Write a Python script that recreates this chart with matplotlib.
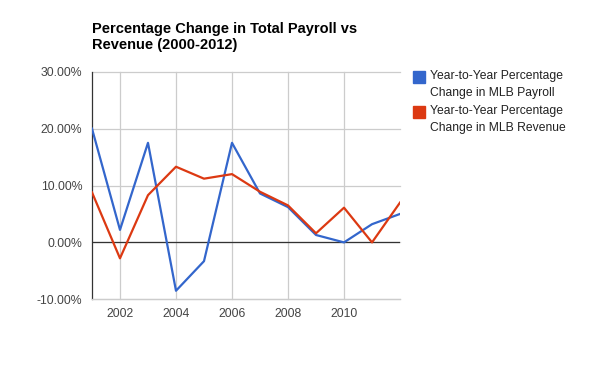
import matplotlib.pyplot as plt
from matplotlib.patches import Rectangle

plt.rcParams['font.family'] = ['Liberation Sans', 'DejaVu Sans']

years = [2001, 2002, 2003, 2004, 2005, 2006, 2007, 2008, 2009, 2010, 2011, 2012]
payroll = [20.0, 2.2, 17.5, -8.5, -3.3, 17.5, 8.6, 6.2, 1.3, 0.0, 3.2, 5.0]
revenue = [8.8, -2.8, 8.3, 13.3, 11.2, 12.0, 8.9, 6.5, 1.6, 6.1, 0.0, 7.0]
labels = ['Year-to-Year Percentage\nChange in MLB Payroll',
          'Year-to-Year Percentage\nChange in MLB Revenue']
colors = ['#3366cc', '#dc3912']

fig = plt.figure(figsize=(6, 3.71), dpi=100)
ax = fig.add_axes([0.1533, 0.1933, 0.5134, 0.6134])

ax.plot(years, payroll, color=colors[0], lw=1.6, zorder=3)
ax.plot(years, revenue, color=colors[1], lw=1.6, zorder=3)

ax.set_xlim(2001, 2012)
ax.set_ylim(-10, 30)
ax.set_xticks([2002, 2004, 2006, 2008, 2010])
ax.set_yticks([-10, 0, 10, 20, 30])
ax.set_yticklabels(['%.2f%%' % v for v in [-10, 0, 10, 20, 30]])
ax.grid(True, color='#cccccc', lw=0.9, clip_on=False)
ax.set_axisbelow(True)
ax.axhline(0, color='#333333', lw=0.9, zorder=2)
ax.tick_params(length=0, labelsize=8.8, colors='#444444')
ax.tick_params(axis='y', pad=7)
ax.tick_params(axis='x', pad=6)
for s in ['top', 'right']:
    ax.spines[s].set_visible(False)
ax.spines['bottom'].set_color('#cccccc')
ax.spines['bottom'].set_linewidth(0.9)
ax.spines['left'].set_color('#333333')
ax.spines['left'].set_linewidth(0.9)

fig.text(92 / 600, 1 - 37 / 371, 'Percentage Change in Total Payroll vs\nRevenue (2000-2012)',
         fontsize=10.5, fontweight='bold', va='center', ha='left', linespacing=1.25)

for i in range(2):
    top = 71 + i * 35
    fig.patches.append(Rectangle((413 / 600, 1 - (top + 12) / 371), 12 / 600, 12 / 371,
                                 transform=fig.transFigure, color=colors[i]))
    fig.text(430 / 600, 1 - (top - 1) / 371, labels[i], fontsize=8.7, color='#222222',
             va='top', ha='left', linespacing=1.6)

plt.savefig('out.png', dpi=100)
